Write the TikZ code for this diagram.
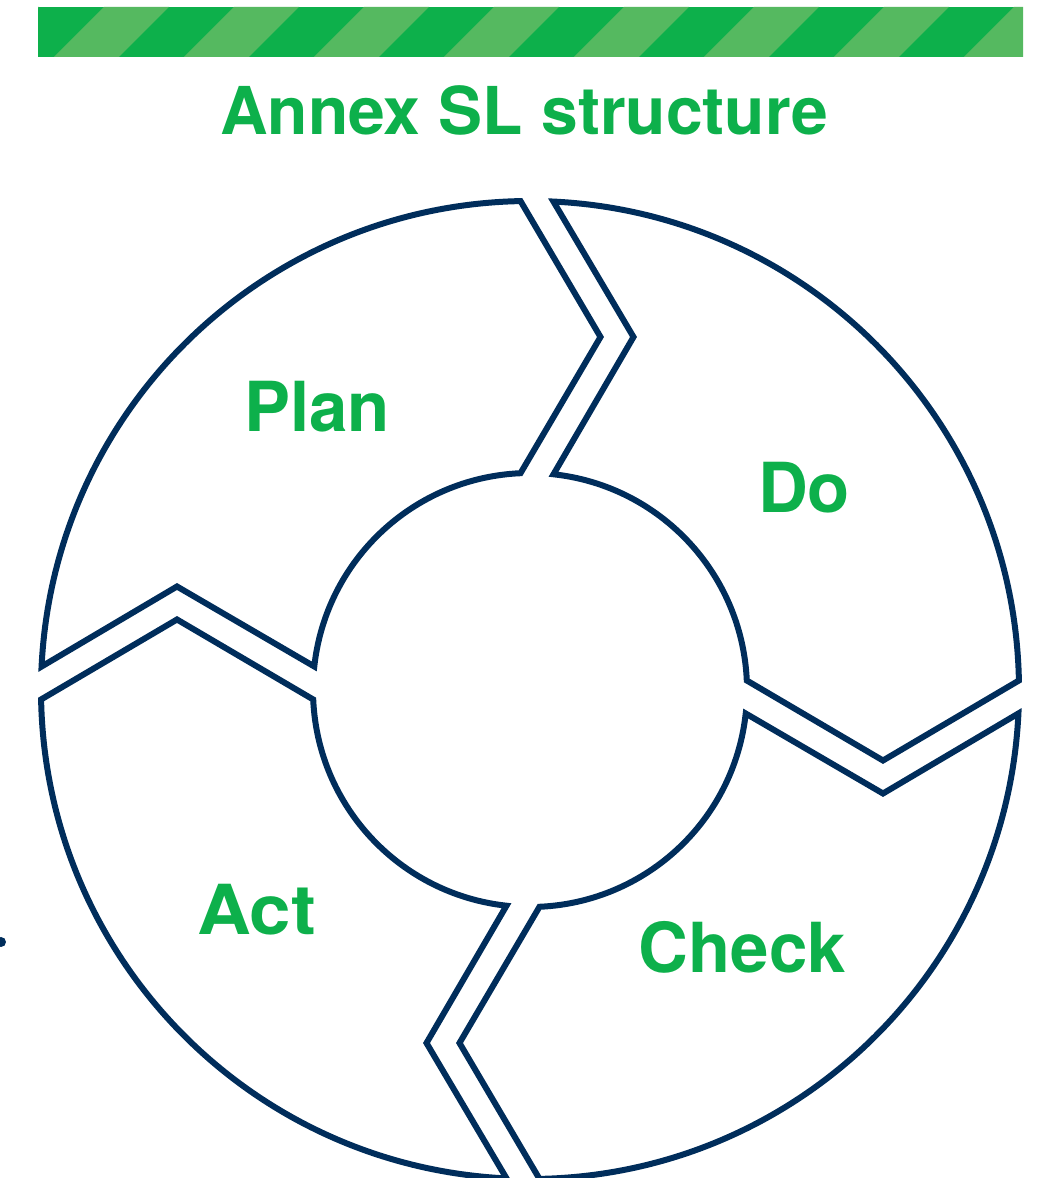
\documentclass[tikz,border=0pt]{standalone}
\usepackage{fontspec}
\setmainfont{TeX Gyre Heros}
\usepackage{tikz}
\usepackage{xcolor}
\usetikzlibrary{positioning, calc}
\definecolor{navy}{RGB}{0,45,91}
\definecolor{darkgreen}{RGB}{13,176,75}
\definecolor{lightgreen}{RGB}{85,185,96}
\tikzstyle{segment} = [draw=navy, line width=6pt, line join=miter]
\tikzstyle{phase} = [text=darkgreen, font=\fontsize{69}{72}\selectfont\bfseries, anchor=base, inner sep=0pt]
\tikzstyle{heading} = [text=darkgreen, font=\fontsize{66}{70}\selectfont\bfseries, anchor=base, inner sep=0pt]

\begin{document}
\begin{tikzpicture}[x=1pt, y=1pt]
        % 绘制PDCA循环图
        \useasboundingbox (0,0) rectangle (1038,1178);
        \begin{scope}
            \clip (38,1121) rectangle (1023,1171);
            \fill[darkgreen] (38,1121) rectangle (1023,1171);
            \foreach \k in {-1,...,7}
                \fill[lightgreen] (54+130*\k,1121) -- ++(65,0) -- ++(50,50) -- ++(-65,0) -- cycle;
        \end{scope}
        \node[heading] (title) at (524,1043) {Annex SL structure};
        
        \foreach \rot in {0,-90,-180,-270}
            \draw[segment, shift={(530,488)}, rotate=\rot]
                (91.11:489) arc[start angle=91.11, end angle=177.25, radius=489]
                -- (-353,103.5) -- (173.78:217)
                arc[start angle=173.78, end angle=92.51, radius=217]
                -- (70.5,353) -- cycle;
        
        \node[phase] (plan) at (317,746) {Plan};
        \node[phase] (do) at (804,665) {Do};
        \node[phase, xscale=1.08] (act) at (256.5,243) {Act};
        \node[phase] (check) at (742.5,205) {Check};
        \node[circle, fill=navy, minimum size=10pt, inner sep=0pt] (dot) at (1,236) {};
    \end{tikzpicture}
\end{document}
